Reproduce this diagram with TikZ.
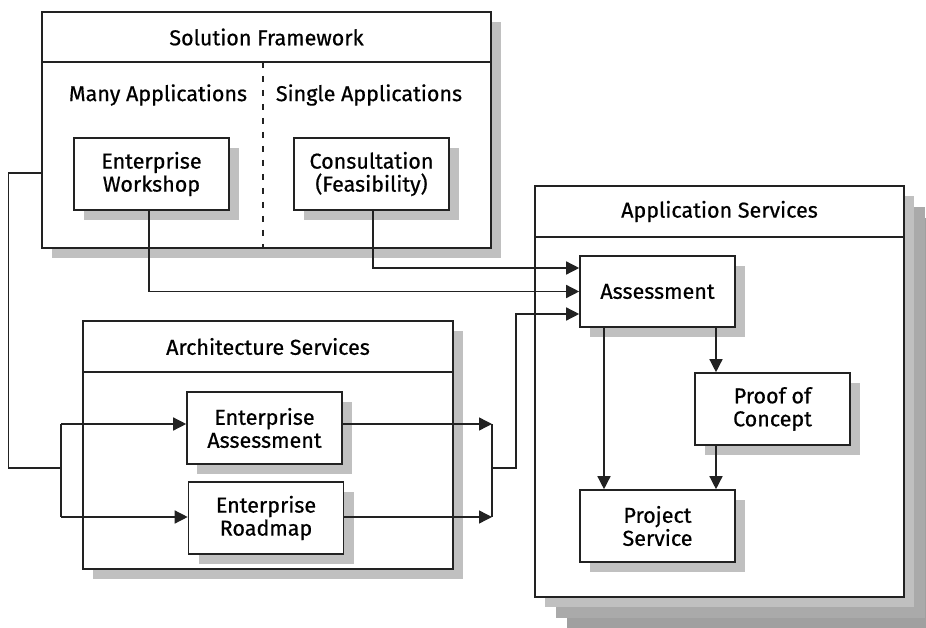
\documentclass[tikz,border=0pt]{standalone}
\usepackage{fontspec}
\setmainfont{Fira Sans}[FakeBold=0.6]
\usetikzlibrary{arrows.meta,shadows}
\definecolor{shadeA}{HTML}{C0C0C0}
\definecolor{shadeB}{HTML}{AAAAAA}
\definecolor{shadeC}{HTML}{A0A0A0}
\definecolor{edge}{HTML}{222222}
\tikzset{
  txt/.style={font=\fontsize{21.5}{23}\selectfont, align=center, inner sep=0pt},
  frame/.style={draw=edge, line width=1.6pt, fill=white, inner sep=0pt},
  dshadow/.style={drop shadow={shadow xshift=10pt, shadow yshift=-10pt, fill=shadeA, opacity=1}},
  stackshadow/.style={
    drop shadow={shadow xshift=32pt, shadow yshift=-32pt, fill=shadeC, opacity=1},
    drop shadow={shadow xshift=21pt, shadow yshift=-21pt, fill=shadeB, opacity=1},
    drop shadow={shadow xshift=10pt, shadow yshift=-10pt, fill=shadeA, opacity=1}},
  item/.style={frame, dshadow, txt, minimum width=155pt, minimum height=72pt},
  link/.style={draw=edge, line width=1.4pt},
  arr/.style={link, -{Triangle[length=13pt,width=13pt]}}
}
\begin{document}
\begin{tikzpicture}[x=1pt, y=-1pt]
\useasboundingbox (0,0) rectangle (926,628);
\clip (0,0) rectangle (926,628);

% Solution Framework container
\node[frame, dshadow, minimum width=449pt, minimum height=236pt] (sf) at (266.5,130) {};
\draw[link] (sf.west |- 0,62) -- (sf.east |- 0,62);
\draw[link, dash pattern=on 6pt off 8pt] (263,62) -- (263,248);
\node[txt] (sfh) at (266.5,37) {Solution Framework};
\node[txt] (many) at (158,95) {Many Applications};
\node[txt] (single) at (369,95) {Single Applications};
\node[item] (ew) at (151.5,174) {Enterprise\\Workshop};
\node[item] (cons) at (371.5,174) {Consultation\\(Feasibility)};

% Architecture Services container
\node[frame, dshadow, minimum width=370pt, minimum height=248pt] (arch) at (268,445) {};
\draw[link] (arch.west |- 0,372) -- (arch.east |- 0,372);
\node[txt] (archh) at (268,346.5) {Architecture Services};
\node[item] (ea) at (264.5,428) {Enterprise\\Assessment};
\node[item] (er) at (266,518) {Enterprise\\Roadmap};

% Application Services container
\node[frame, stackshadow, minimum width=369pt, minimum height=411pt] (app) at (719.5,391.5) {};
\draw[link] (app.west |- 0,237) -- (app.east |- 0,237);
\node[txt] (apph) at (719.5,211.5) {Application Services};
\node[item, minimum height=71pt] (as) at (657.5,291.5) {Assessment};
\node[item] (poc) at (772.5,409) {Proof of\\Concept};
\node[item] (ps) at (657.5,526) {Project\\Service};

% Junction points
\coordinate (lx) at (8.5,173);
\coordinate (lj) at (61,468);
\coordinate (rj) at (492,468);
\coordinate (rx) at (516,468);

% Feeds into Assessment
\draw[arr] (cons.south -| 373,0) |- ([yshift=23.5pt]as.west);
\draw[arr] (ew.south -| 149,0) |- (as.west);
\draw[arr] (rj) -- (rx) |- ([yshift=-22.5pt]as.west);

% Solution Framework to architecture services
\draw[link] (sf.west |- lx) -- (lx) |- (lj);
\draw[arr] (lj |- 0,424) -- ([yshift=4pt]ea.west);
\draw[arr] (lj |- 0,517) -- ([yshift=1pt]er.west);
\draw[link] (lj |- 0,424) -- (lj |- 0,517);

% Architecture services merge
\draw[arr] ([yshift=4pt]ea.east) -- (rj |- 0,424);
\draw[arr] ([yshift=1pt]er.east) -- (rj |- 0,517);
\draw[link] (rj |- 0,424) -- (rj |- 0,517);

% Inside application services
\draw[arr] (as.south -| 604,0) -- (ps.north -| 604,0);
\draw[arr] (as.south -| 716,0) -- (poc.north -| 716,0);
\draw[arr] (poc.south -| 716,0) -- (ps.north -| 716,0);
\end{tikzpicture}
\end{document}
